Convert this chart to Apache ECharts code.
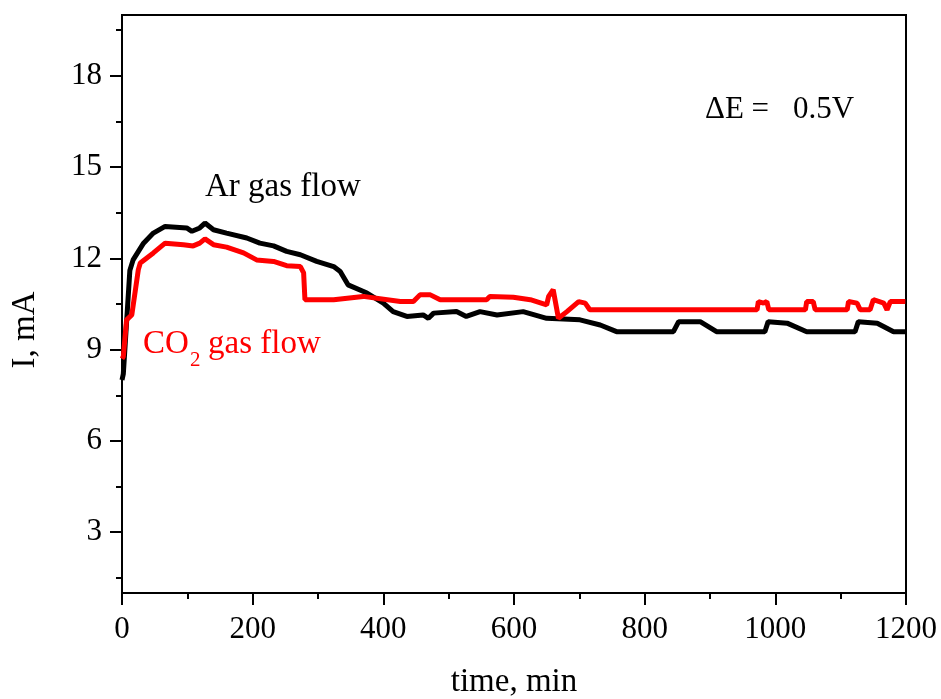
<!DOCTYPE html>
<html>
<head>
<meta charset="utf-8">
<script src="https://cdn.jsdelivr.net/npm/echarts@6/dist/echarts.min.js"></script>
<style>
  html, body { margin: 0; padding: 0; background: #fff; }
  #chart { width: 941px; height: 699px; }
</style>
</head>
<body>
<div id="chart"></div>
<script>
// Current vs. time under Ar and CO2 gas flow
const arTime = [0, 2, 12, 17, 33, 48, 66, 99, 107, 119, 127, 140, 160, 191, 211, 232, 252, 273, 298, 324, 334, 346, 375, 400, 415, 436, 461, 469, 477, 512, 527, 548, 574, 614, 650, 701, 732, 757, 844, 852, 857, 885, 910, 984, 989, 1018, 1048, 1122, 1127, 1156, 1181, 1199];
const arCurrent = [8.0, 8.2, 11.6, 11.95, 12.5, 12.83, 13.05, 13.0, 12.89, 13.0, 13.16, 12.94, 12.83, 12.67, 12.5, 12.41, 12.23, 12.12, 11.9, 11.73, 11.57, 11.13, 10.86, 10.53, 10.25, 10.09, 10.14, 10.03, 10.2, 10.25, 10.09, 10.25, 10.14, 10.25, 10.03, 9.98, 9.81, 9.59, 9.59, 9.92, 9.92, 9.92, 9.59, 9.59, 9.92, 9.87, 9.59, 9.59, 9.92, 9.87, 9.59, 9.59];

const co2Time = [0, 2, 7, 15, 25, 28, 48, 66, 94, 109, 119, 127, 140, 160, 186, 206, 232, 252, 273, 278, 280, 324, 369, 426, 446, 456, 472, 487, 558, 563, 599, 625, 650, 653, 660, 668, 681, 699, 709, 716, 972, 974, 982, 987, 990, 1046, 1048, 1058, 1061, 1110, 1112, 1125, 1130, 1145, 1150, 1166, 1171, 1176, 1199];
const co2Current = [8.7, 8.77, 9.98, 10.14, 11.63, 11.85, 12.18, 12.5, 12.45, 12.41, 12.5, 12.64, 12.45, 12.37, 12.18, 11.95, 11.9, 11.76, 11.73, 11.52, 10.64, 10.64, 10.75, 10.58, 10.58, 10.8, 10.8, 10.64, 10.64, 10.75, 10.72, 10.64, 10.47, 10.75, 10.97, 10.03, 10.25, 10.58, 10.53, 10.31, 10.31, 10.58, 10.53, 10.58, 10.31, 10.31, 10.58, 10.58, 10.31, 10.31, 10.58, 10.53, 10.31, 10.31, 10.64, 10.53, 10.31, 10.58, 10.58];

const yMajorTicks = [3, 6, 9, 12, 15, 18];
const yMinorTicks = [1.5, 4.5, 7.5, 10.5, 13.5, 16.5, 19.5];

const pair = (xs, ys) => xs.map((x, i) => [x, ys[i]]);

const FONT = '"Liberation Serif", "Times New Roman", serif';
const TICK_SIZE = 31;
const chart = echarts.init(document.getElementById('chart'));

// plain text element, vertically centred on y
const label = (x, y, text, size, color, extra) => Object.assign({
  type: 'text', x: x, y: y,
  style: { text: text, fill: color, font: size + 'px ' + FONT, align: 'left', verticalAlign: 'middle' }
}, extra || {});

chart.setOption({
  animation: false,
  backgroundColor: '#fff',
  grid: {
    left: 122, top: 15, right: 35, bottom: 106,
    outerBoundsMode: 'none',
    show: true, borderColor: '#000', borderWidth: 2, backgroundColor: 'transparent'
  },
  xAxis: {
    type: 'value', min: 0, max: 1200, interval: 200,
    name: 'time, min', nameLocation: 'middle', nameGap: 73,
    nameTextStyle: { fontFamily: FONT, fontSize: 33, color: '#000' },
    axisLine: { show: true, lineStyle: { color: '#000', width: 2 } },
    axisTick: { show: true, length: 12, lineStyle: { color: '#000', width: 2 } },
    minorTick: { show: true, splitNumber: 2, length: 6, lineStyle: { color: '#000', width: 2 } },
    axisLabel: { margin: 21, fontFamily: FONT, fontSize: TICK_SIZE, color: '#000', formatter: v => String(v) },
    splitLine: { show: false }
  },
  yAxis: [{
    type: 'value', min: 1, max: 20,
    axisLine: { show: true, lineStyle: { color: '#000', width: 2 } },
    axisTick: { show: true, length: 12, customValues: yMajorTicks, lineStyle: { color: '#000', width: 2 } },
    axisLabel: { margin: 20, customValues: yMajorTicks, fontFamily: FONT, fontSize: TICK_SIZE, color: '#000' },
    splitLine: { show: false }
  }, {
    type: 'value', min: 1, max: 20, position: 'left',
    axisLine: { show: false },
    axisTick: { show: true, length: 6, customValues: yMinorTicks, lineStyle: { color: '#000', width: 2 } },
    axisLabel: { show: false },
    splitLine: { show: false }
  }],
  series: [{
    name: 'Ar', type: 'line', yAxisIndex: 0, showSymbol: false,
    data: pair(arTime, arCurrent),
    lineStyle: { color: '#000', width: 5 }, z: 2
  }, {
    name: 'CO2', type: 'line', yAxisIndex: 0, showSymbol: false,
    data: pair(co2Time, co2Current),
    lineStyle: { color: '#ff0000', width: 5 }, z: 3
  }],
  graphic: [
    // y axis title, reading bottom to top
    {
      type: 'text', x: 25, y: 330, rotation: Math.PI / 2,
      style: { text: 'I, mA', fill: '#000', font: '33px ' + FONT, align: 'center', verticalAlign: 'middle' }
    },
    label(205, 187, 'Ar gas flow', 33, '#000'),
    label(143, 344, 'CO', 33, '#ff0000'),
    label(190, 360, '2', 21, '#ff0000'),
    label(208, 344, 'gas flow', 33, '#ff0000'),
    label(705, 110, '\u0394E =', 31, '#000'),
    label(793, 110, '0.5V', 31, '#000')
  ]
});
</script>
</body>
</html>
